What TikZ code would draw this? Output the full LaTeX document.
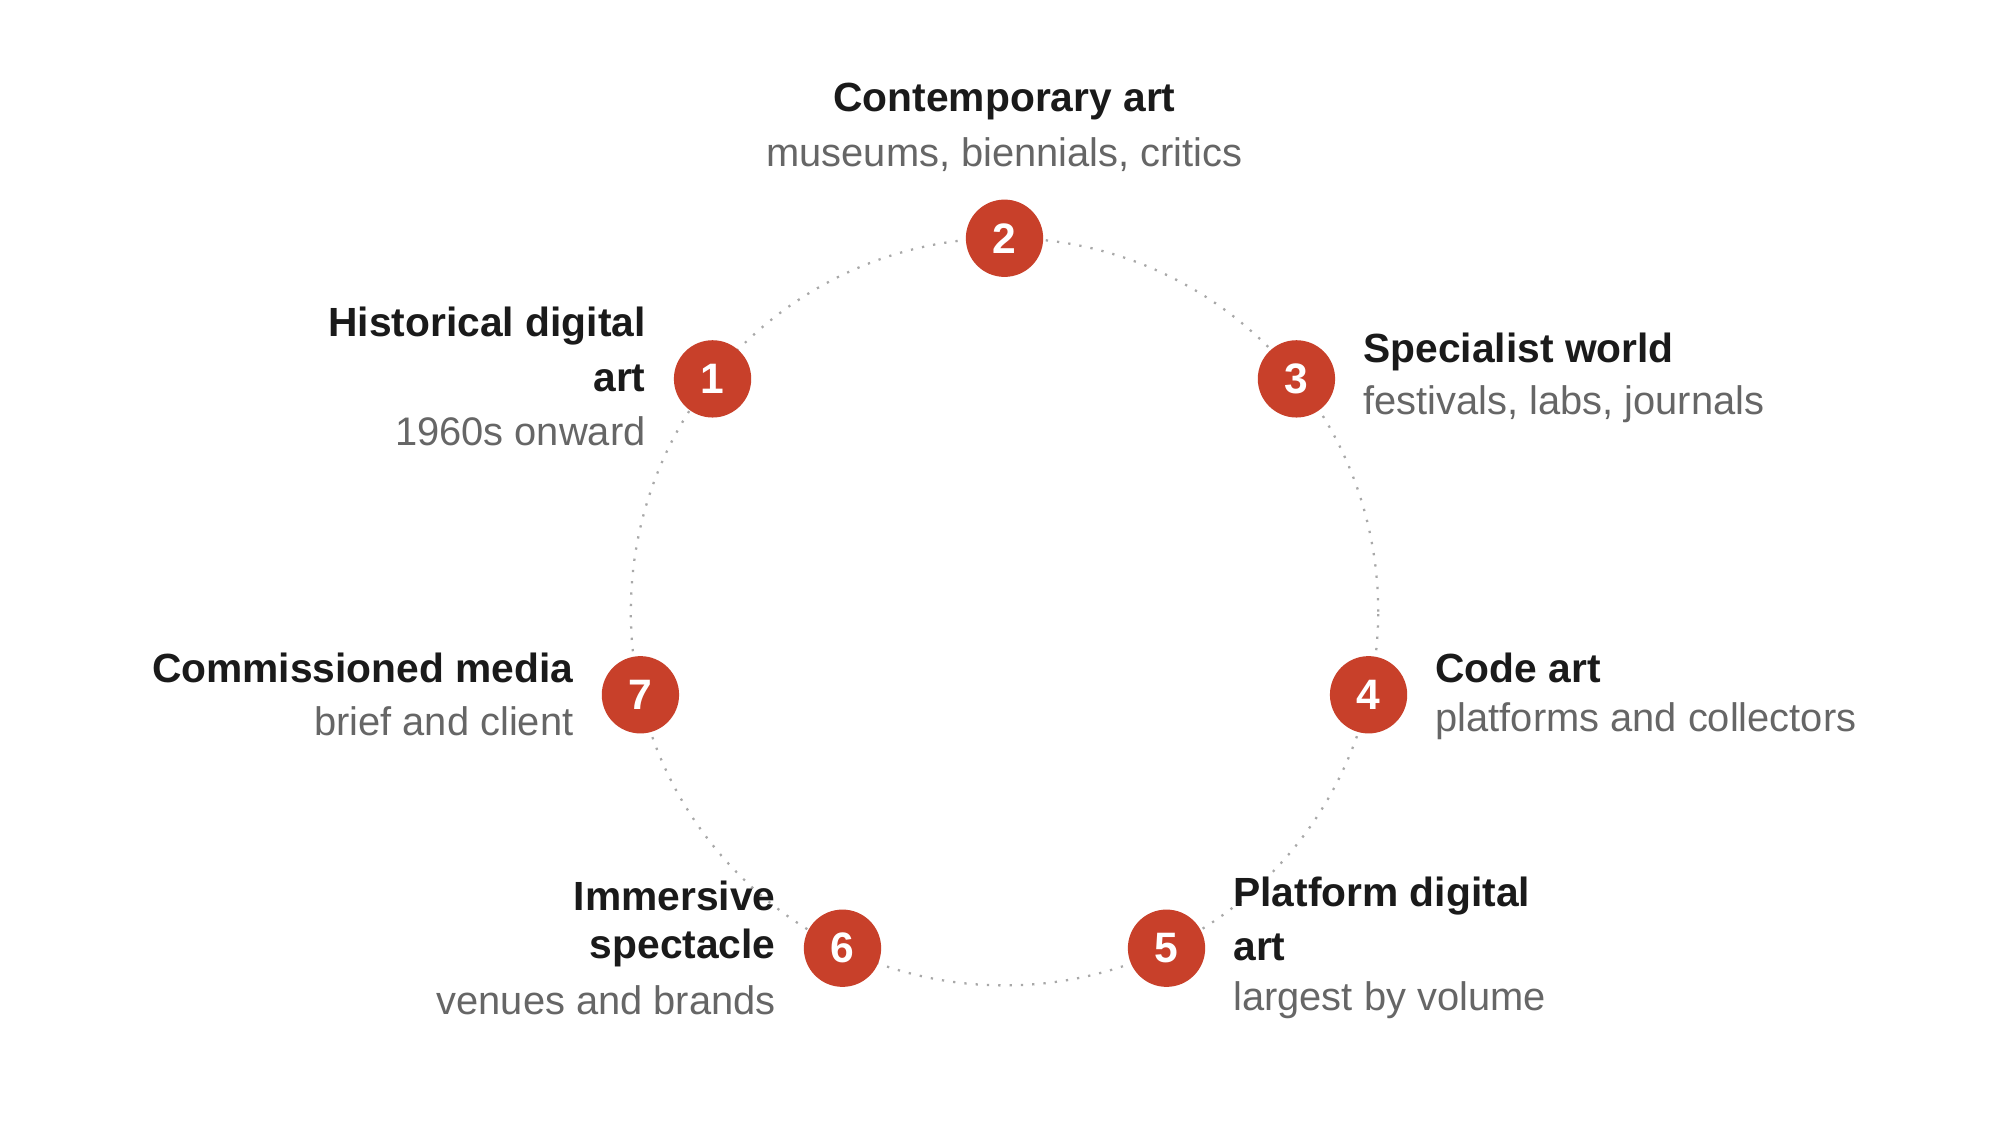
\documentclass[tikz,border=0pt]{standalone}
\usepackage{fontspec}
\setmainfont{Liberation Sans}
\definecolor{dotred}{HTML}{C8402A}
\definecolor{ttl}{HTML}{1A1A1A}
\definecolor{sub}{HTML}{666666}
\definecolor{ring}{HTML}{A8A8A8}
\begin{document}
\begin{tikzpicture}[x=0.01cm,y=-0.01cm,
  num/.style={circle,fill=dotred,minimum size=0.6cm,inner sep=0pt,text=white,font=\fontsize{9.4}{10}\selectfont\bfseries},
  tt/.style={inner sep=0pt,text=ttl,font=\fontsize{9}{10}\selectfont\bfseries},
  st/.style={inner sep=0pt,text=sub,font=\fontsize{8.8}{10}\selectfont}]
\useasboundingbox[fill=white] (0,0) rectangle (1553,873);
\coordinate (c) at (780,475);
\draw[ring,line width=0.5pt,dotted] (c) circle (2.9cm);
\node[num] (n1) at (553.3,294.2) {1};
\node[num] (n2) at (780,185) {2};
\node[num] (n3) at (1006.7,294.2) {3};
\node[num] (n4) at (1062.7,539.5) {4};
\node[num] (n5) at (905.8,736.3) {5};
\node[num] (n6) at (654.2,736.3) {6};
\node[num] (n7) at (497.3,539.5) {7};
% 2
\node[tt] (t2) at (780,79) {Contemporary art};
\node[st] (s2) at (780,120) {museums, biennials, critics};
% 1
\node[tt,anchor=east] (t1a) at (502,253) {Historical digital};
\node[tt,anchor=east] (t1b) at (502,294) {art};
\node[st,anchor=east] (s1) at (502,335) {1960s onward};
% 3
\node[tt,anchor=west] (t3) at (1058,273) {Specialist world};
\node[st,anchor=west] (s3) at (1058,314) {festivals, labs, journals};
% 4
\node[tt,anchor=west] (t4) at (1114,519) {Code art};
\node[st,anchor=west] (s4) at (1114,560) {platforms and collectors};
% 5
\node[tt,anchor=west] (t5a) at (957,696) {Platform digital};
\node[tt,anchor=west] (t5b) at (957,736) {art};
\node[st,anchor=west] (s5) at (957,777) {largest by volume};
% 6
\node[tt,anchor=east] (t6a) at (603,696) {Immersive};
\node[tt,anchor=east] (t6b) at (603,736) {spectacle};
\node[st,anchor=east] (s6) at (603,777) {venues and brands};
% 7
\node[tt,anchor=east] (t7) at (446,519) {Commissioned media};
\node[st,anchor=east] (s7) at (446,560) {brief and client};
\end{tikzpicture}
\end{document}
